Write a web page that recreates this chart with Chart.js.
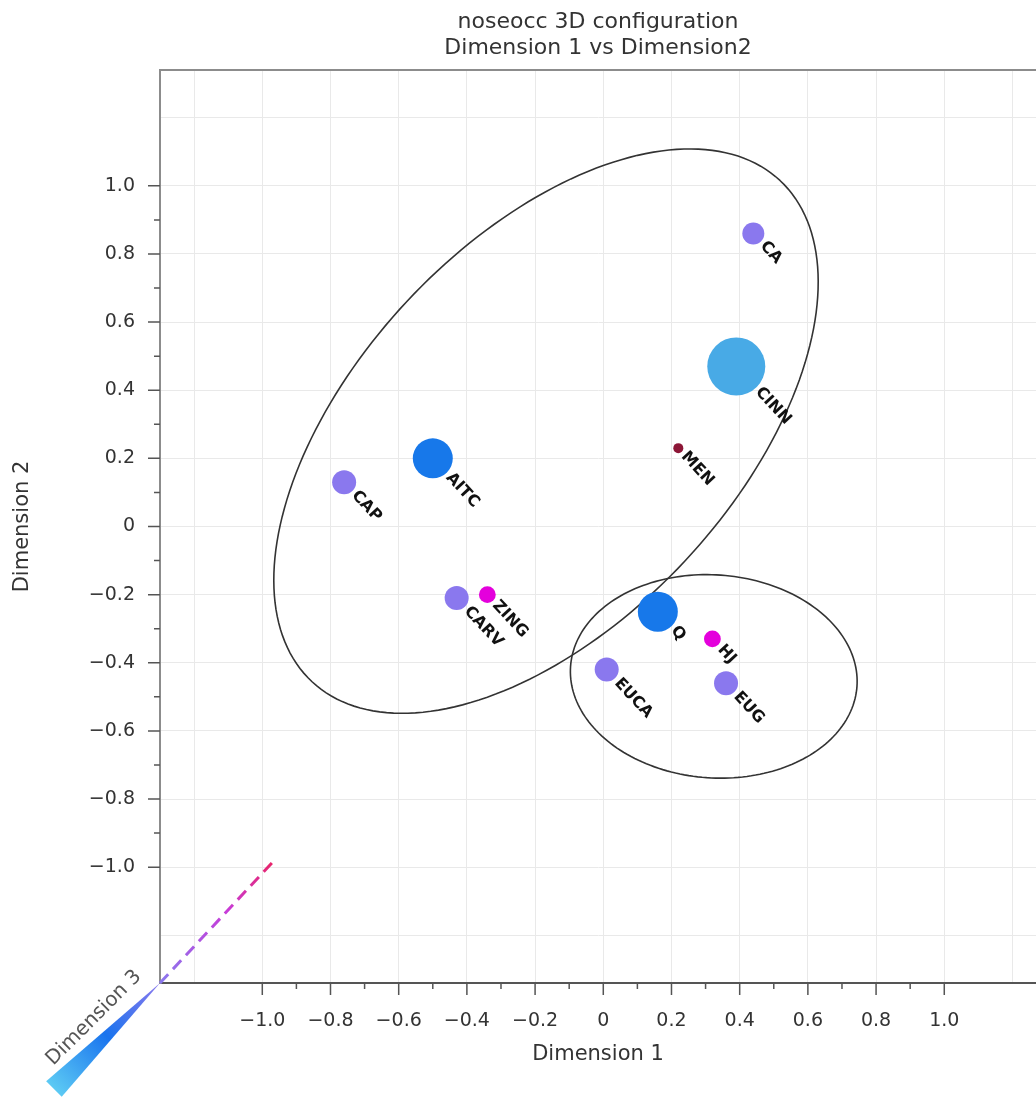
<!DOCTYPE html>
<html>
<head>
<meta charset="utf-8">
<title>noseocc 3D configuration</title>
<script src="https://cdn.jsdelivr.net/npm/chart.js@4.4.1/dist/chart.umd.min.js"></script>
<style>
  html, body { margin: 0; padding: 0; background: #fff; overflow: hidden; }
  #wrap { width: 1036px; height: 1100px; overflow: hidden; }
  #mds { display: block; }
</style>
</head>
<body>
<div id="wrap"><canvas id="mds" width="1036" height="1100"></canvas></div>
<script>
// stimuli and their coordinates in the 3D configuration
var stimuli = ['CA', 'CINN', 'MEN', 'AITC', 'CAP', 'CARV', 'ZING', 'Q', 'HJ', 'EUCA', 'EUG'];
var dim1 = [0.44, 0.39, 0.22, -0.50, -0.76, -0.43, -0.34, 0.16, 0.32, 0.01, 0.36];
var dim2 = [0.86, 0.47, 0.23, 0.20, 0.13, -0.21, -0.20, -0.25, -0.33, -0.42, -0.46];
var dim3 = [0.00, 0.90, -0.30, 0.45, 0.05, 0.05, -0.13, 0.45, -0.13, 0.05, 0.05];

// the two clusters circled on the plot (centre, half axes, tilt in degrees)
var clusterX = [-0.168, 0.324];
var clusterY = [0.280, -0.440];
var clusterA = [1.006, 0.421];
var clusterB = [0.558, 0.298];
var clusterTilt = [47, -4];

// axis ticks
var gridValues = [-1.2, -1.0, -0.8, -0.6, -0.4, -0.2, 0, 0.2, 0.4, 0.6, 0.8, 1.0, 1.2];
var tickLabels = ['', '\u22121.0', '\u22120.8', '\u22120.6', '\u22120.4', '\u22120.2', '0', '0.2', '0.4', '0.6', '0.8', '1.0', ''];
var minorTicks = [-0.9, -0.7, -0.5, -0.3, -0.1, 0.1, 0.3, 0.5, 0.7, 0.9];
var majorTicks = [-1.0, -0.8, -0.6, -0.4, -0.2, 0, 0.2, 0.4, 0.6, 0.8, 1.0];

Chart.defaults.font.family = "'DejaVu Sans', 'Liberation Sans', sans-serif";

// dimension 3 is shown by size and colour of the dots
function depthColour(d) {
  if (d > 0.7) return '#48aae6';
  if (d > 0.3) return '#1778ea';
  if (d > -0.08) return '#8a78ee';
  if (d > -0.2) return '#e400dc';
  return '#8c1636';
}
function depthRadius(d) {
  return 11 + 20 * d;
}

var points = [];
var colours = [];
var maxR = 0;
for (var i = 0; i < stimuli.length; i++) {
  points.push({ x: dim1[i], y: dim2[i], r: depthRadius(dim3[i]) });
  colours.push(depthColour(dim3[i]));
  maxR = Math.max(maxR, depthRadius(dim3[i]));
}

// bubble charts keep a margin of the biggest radius on every side;
// the picture is cut at the right edge, so widen the canvas by that much
var canvas = document.getElementById('mds');
canvas.width = 1036 + Math.ceil(maxR);
var rightPad = canvas.width - 1036 - maxR;

var decor = {
  id: 'decor',
  beforeDatasetsDraw: function (chart) {
    var ctx = chart.ctx, xs = chart.scales.x, ys = chart.scales.y;
    ctx.save();
    ctx.strokeStyle = '#333';
    ctx.lineWidth = 1.6;
    for (var k = 0; k < clusterX.length; k++) {
      var th = clusterTilt[k] * Math.PI / 180;
      ctx.beginPath();
      for (var s = 0; s <= 200; s++) {
        var t = s / 200 * 2 * Math.PI;
        var dx = clusterA[k] * Math.cos(t) * Math.cos(th) - clusterB[k] * Math.sin(t) * Math.sin(th);
        var dy = clusterA[k] * Math.cos(t) * Math.sin(th) + clusterB[k] * Math.sin(t) * Math.cos(th);
        var px = xs.getPixelForValue(clusterX[k] + dx);
        var py = ys.getPixelForValue(clusterY[k] + dy);
        if (s === 0) ctx.moveTo(px, py); else ctx.lineTo(px, py);
      }
      ctx.closePath();
      ctx.stroke();
    }
    ctx.restore();
  },
  afterDatasetsDraw: function (chart) {
    var ctx = chart.ctx;
    var meta = chart.getDatasetMeta(0);
    ctx.save();
    ctx.fillStyle = '#111';
    ctx.font = 'bold 16px "DejaVu Sans"';
    ctx.textAlign = 'left';
    ctx.textBaseline = 'middle';
    for (var i = 0; i < meta.data.length; i++) {
      var el = meta.data[i];
      ctx.save();
      ctx.translate(el.x, el.y);
      ctx.rotate(47 * Math.PI / 180);
      ctx.fillText(stimuli[i], depthRadius(dim3[i]) + 3, 0);
      ctx.restore();
    }
    ctx.restore();
  },
  afterDraw: function (chart) {
    var ctx = chart.ctx, area = chart.chartArea;
    var xs = chart.scales.x, ys = chart.scales.y;
    ctx.save();
    // top frame line
    ctx.strokeStyle = '#8c8c8c';
    ctx.lineWidth = 2;
    ctx.beginPath();
    ctx.moveTo(area.left, area.top);
    ctx.lineTo(area.right, area.top);
    ctx.stroke();

    // tick marks
    ctx.strokeStyle = '#555';
    ctx.lineWidth = 1.5;
    ctx.beginPath();
    majorTicks.forEach(function (v) {
      var px = xs.getPixelForValue(v);
      ctx.moveTo(px, area.bottom); ctx.lineTo(px, area.bottom + 12);
      var py = ys.getPixelForValue(v);
      ctx.moveTo(area.left, py); ctx.lineTo(area.left - 12, py);
    });
    minorTicks.forEach(function (v) {
      var px = xs.getPixelForValue(v);
      ctx.moveTo(px, area.bottom); ctx.lineTo(px, area.bottom + 6);
      var py = ys.getPixelForValue(v);
      ctx.moveTo(area.left, py); ctx.lineTo(area.left - 6, py);
    });
    ctx.stroke();

    // dimension 3 axis: dashed far half, wedge near half
    var ox = area.left, oy = area.bottom;
    var a1 = 47 * Math.PI / 180, a2 = 45 * Math.PI / 180;
    var ex = ox + 165 * Math.cos(a1), ey = oy - 165 * Math.sin(a1);
    var g1 = ctx.createLinearGradient(ox, oy, ex, ey);
    g1.addColorStop(0, '#8a78ee');
    g1.addColorStop(0.6, '#c83cd8');
    g1.addColorStop(1, '#e8246a');
    ctx.strokeStyle = g1;
    ctx.lineWidth = 3;
    ctx.setLineDash([12, 7]);
    ctx.beginPath();
    ctx.moveTo(ox, oy);
    ctx.lineTo(ex, ey);
    ctx.stroke();
    ctx.setLineDash([]);

    var wx = ox - 150 * Math.cos(a2), wy = oy + 150 * Math.sin(a2);
    var nx = Math.cos(a2) * 11, ny = Math.sin(a2) * 11;
    var g2 = ctx.createLinearGradient(ox, oy, wx, wy);
    g2.addColorStop(0, '#8a78ee');
    g2.addColorStop(0.5, '#1a74ee');
    g2.addColorStop(1, '#5ccaf4');
    ctx.fillStyle = g2;
    ctx.beginPath();
    ctx.moveTo(ox, oy);
    ctx.lineTo(wx + nx, wy + ny);
    ctx.lineTo(wx - nx, wy - ny);
    ctx.closePath();
    ctx.fill();

    ctx.fillStyle = '#555';
    ctx.font = '20px "DejaVu Sans"';
    ctx.textAlign = 'center';
    ctx.textBaseline = 'middle';
    ctx.translate(94, 1018);
    ctx.rotate(-a2);
    ctx.fillText('Dimension 3', 0, 0);
    ctx.restore();
  }
};

new Chart(canvas, {
  type: 'bubble',
  data: {
    datasets: [{
      label: 'stimuli',
      data: points,
      backgroundColor: colours,
      borderWidth: 0,
      hoverRadius: 0
    }]
  },
  options: {
    responsive: false,
    animation: false,
    events: [],
    layout: { padding: 0 },
    plugins: {
      legend: { display: false },
      tooltip: { enabled: false },
      title: {
        display: true,
        fullSize: false,
        text: ['noseocc 3D configuration', 'Dimension 1 vs Dimension2'],
        color: '#333',
        font: { size: 22, weight: 'normal' },
        padding: { top: 9, bottom: 8.2 }
      }
    },
    scales: {
      x: {
        type: 'linear',
        min: -1.3,
        max: 1.269 + rightPad / 341,
        afterBuildTicks: function (s) { s.ticks = gridValues.map(function (v) { return { value: v }; }); },
        afterFit: function (s) { s.height = 117; },
        grid: { color: '#e9e9e9', lineWidth: 1, drawTicks: false },
        border: { display: true, color: '#555', width: 2 },
        ticks: {
          callback: function (v, i) { return tickLabels[i]; },
          autoSkip: false,
          maxRotation: 0,
          padding: 27,
          color: '#333',
          font: { size: 19 }
        },
        title: {
          display: true,
          text: 'Dimension 1',
          color: '#333',
          font: { size: 21 },
          padding: { top: 0, bottom: 33 }
        }
      },
      y: {
        type: 'linear',
        min: -1.34,
        max: 1.34,
        afterBuildTicks: function (s) { s.ticks = gridValues.map(function (v) { return { value: v }; }); },
        afterFit: function (s) { s.width = 160; },
        grid: { color: '#e9e9e9', lineWidth: 1, drawTicks: false },
        border: { display: true, color: '#8c8c8c', width: 2 },
        ticks: {
          callback: function (v, i) { return tickLabels[i]; },
          autoSkip: false,
          padding: 25,
          color: '#333',
          font: { size: 19 }
        },
        title: {
          display: true,
          text: 'Dimension 2',
          color: '#333',
          font: { size: 21 },
          padding: { top: 10, bottom: 0 }
        }
      }
    }
  },
  plugins: [decor]
});
</script>
</body>
</html>
